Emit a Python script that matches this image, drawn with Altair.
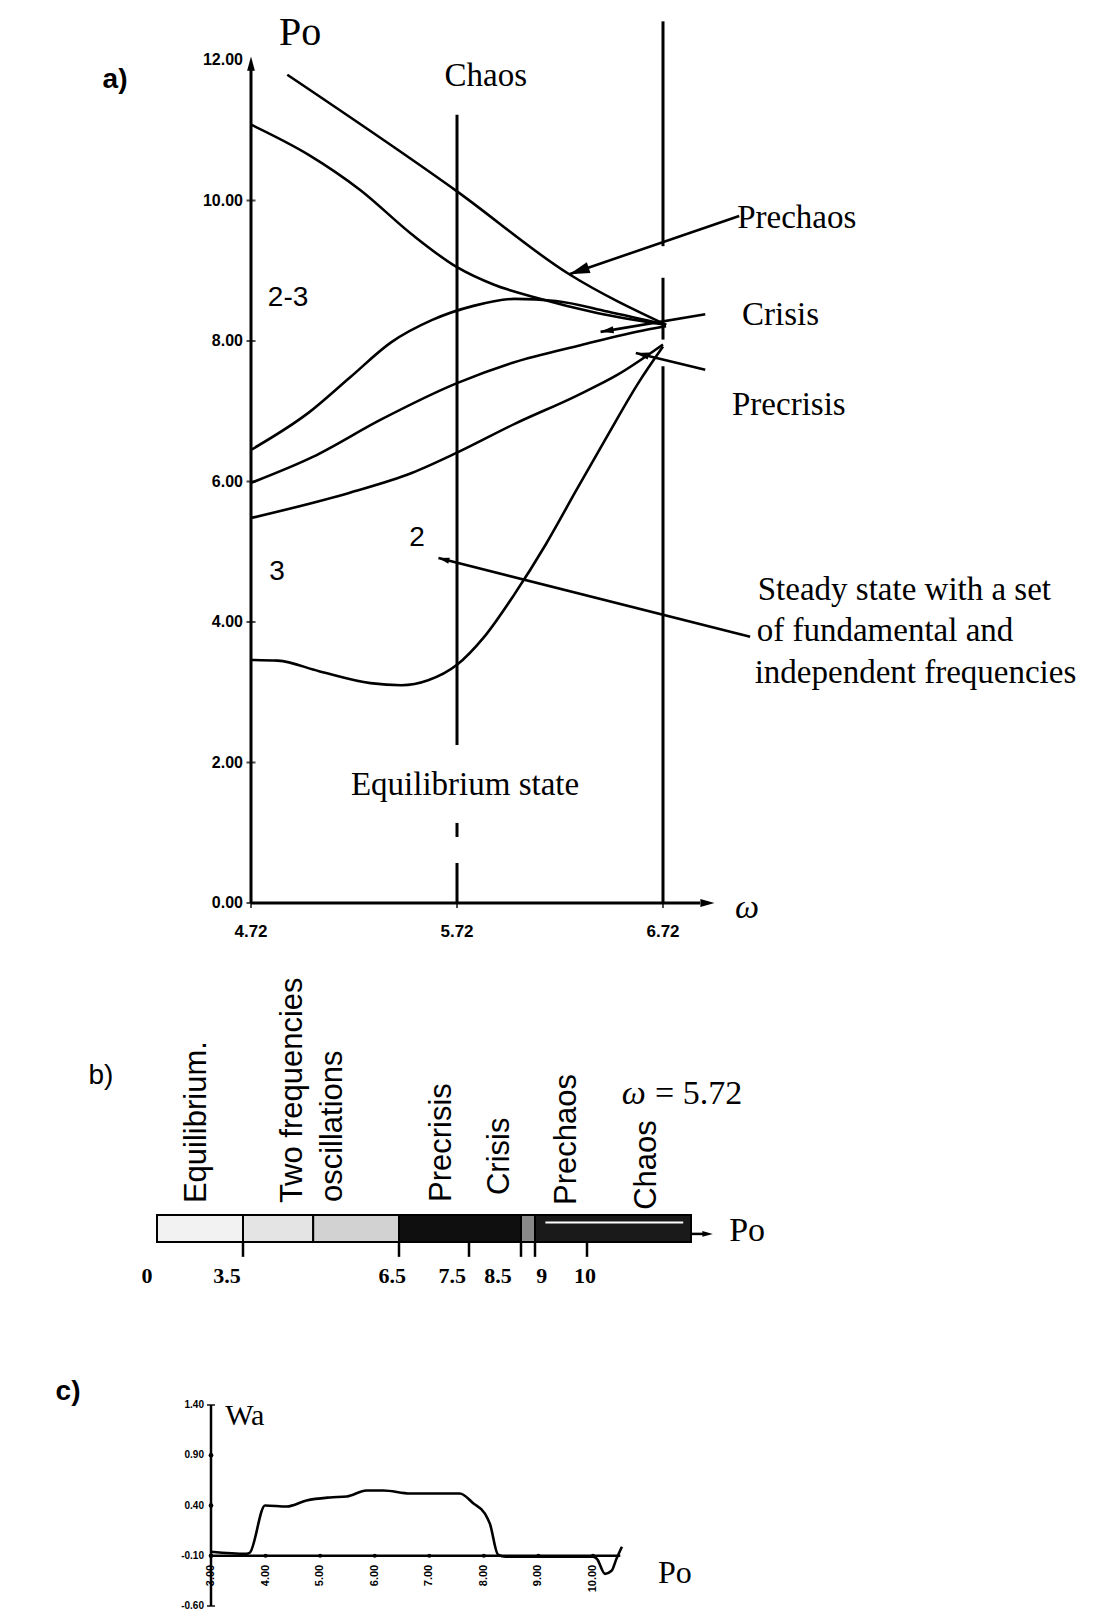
import math
import altair as alt
import pandas as pd

SERIF = "Liberation Serif"
SANS = "Liberation Sans"

# ================= panel a) : Po versus omega =================
c1_w = [4.896, 5.72, 6.265, 6.735]
c1_p = [11.79, 10.13, 8.95, 8.23]
c2_w = [4.72, 5.0, 5.25, 5.5, 5.72, 5.9, 6.1, 6.4, 6.735]
c2_p = [11.08, 10.65, 10.15, 9.52, 9.05, 8.80, 8.62, 8.40, 8.23]
c3_w = [4.72, 5.0, 5.2, 5.4, 5.6, 5.8, 6.0, 6.2, 6.45, 6.735]
c3_p = [6.45, 6.98, 7.48, 7.98, 8.30, 8.50, 8.60, 8.57, 8.42, 8.23]
c4_w = [4.72, 5.02, 5.35, 5.72, 5.99, 6.32, 6.64, 6.735]
c4_p = [5.98, 6.35, 6.88, 7.40, 7.69, 7.94, 8.16, 8.21]
c5_w = [4.72, 5.2, 5.5, 5.72, 6.0, 6.3, 6.5, 6.72]
c5_p = [5.48, 5.84, 6.12, 6.41, 6.82, 7.22, 7.52, 7.95]
c6_w = [4.72, 4.85, 5.05, 5.30, 5.45, 5.58, 5.72, 5.85, 6.0, 6.15, 6.3, 6.45, 6.6, 6.72]
c6_p = [3.46, 3.45, 3.30, 3.13, 3.10, 3.17, 3.39, 3.78, 4.40, 5.10, 5.88, 6.65, 7.40, 7.92]
curves_w = [c1_w, c2_w, c3_w, c4_w, c5_w, c6_w]
curves_p = [c1_p, c2_p, c3_p, c4_p, c5_p, c6_p]

# vertical boundary lines (omega, Po top, Po bottom)
div_w = [5.72, 5.72, 5.72, 6.72, 6.72, 6.72]
div_top = [11.22, 1.14, 0.57, 12.55, 8.90, 7.64]
div_bot = [2.25, 0.94, 0.00, 9.35, 8.02, 0.00]

# annotation arrows (tail -> head)
arr_tail_w = [7.09, 6.925, 6.925, 7.143]
arr_tail_p = [9.78, 8.38, 7.59, 3.79]
arr_head_w = [6.265, 6.417, 6.588, 5.63]
arr_head_p = [8.95, 8.13, 7.83, 4.91]
arr_head_size = [420, 170, 170, 120]

a_ytick_vals = [0, 2, 4, 6, 8, 10, 12]
a_ytick_text = ["0.00", "2.00", "4.00", "6.00", "8.00", "10.00", "12.00"]
a_xtick_vals = [4.72, 5.72, 6.72]
a_xtick_text = ["4.72", "5.72", "6.72"]

a_lab_left_text = ["Prechaos", "Crisis", "Precrisis", "Steady state with a set",
                   "of fundamental and", "independent frequencies"]
a_lab_left_w = [7.08, 7.104, 7.055, 7.18, 7.175, 7.165]
a_lab_left_p = [9.75, 8.37, 7.09, 4.45, 3.87, 3.27]
a_lab_mid_text = ["Chaos", "Equilibrium state"]
a_lab_mid_w = [5.86, 5.759]
a_lab_mid_p = [11.77, 1.68]
a_num_text = ["2-3", "3", "2"]
a_num_w = [4.90, 4.846, 5.526]
a_num_p = [8.61, 4.71, 5.20]

# ================= panel b) : regimes at omega = 5.72 =================
b_seg_start = [0, 3.5, 4.85, 6.5, 8.5, 9.0]
b_seg_end = [3.5, 4.85, 6.5, 8.5, 9.0, 12.0]
b_seg_fill = ["#f2f2f2", "#e4e4e4", "#d2d2d2", "#0f0f0f", "#8a8a8a", "#1a1a1a"]
b_tick_vals = [3.5, 6.5, 7.5, 8.5, 9, 10]
b_ticklab_text = ["0", "3.5", "6.5", "7.5", "8.5", "9", "10"]
b_ticklab_pos = [-0.41, 2.85, 6.37, 7.26, 8.06, 9.13, 9.96]
b_regime_text = ["Equilibrium.", "Two frequencies", "oscillations", "Precrisis",
                 "Crisis", "Prechaos", "Chaos"]
b_regime_po = [1.63, 4.46, 5.23, 7.11, 8.10, 9.62, 11.15]
b_regime_lvl = [1.44, 1.44, 1.48, 1.48, 1.74, 1.37, 1.19]

# ================= panel c) : Wa versus Po =================
c_po = [3.0, 3.65, 3.71, 3.99, 4.39, 4.75, 5.18, 5.49, 5.85, 6.16, 6.65, 7.56, 7.81,
        8.02, 8.11, 8.26, 8.40, 9.0, 10.0, 10.07, 10.22, 10.34, 10.43, 10.53]
c_wa = [-0.06, -0.08, -0.07, 0.40, 0.39, 0.45, 0.48, 0.49, 0.55, 0.55, 0.52, 0.52, 0.42,
        0.32, 0.22, -0.09, -0.11, -0.11, -0.11, -0.13, -0.28, -0.25, -0.13, -0.01]
c_ytick_vals = [1.4, 0.9, 0.4, -0.1, -0.6]
c_ytick_text = ["1.40", "0.90", "0.40", "-0.10", "-0.60"]
c_xtick_vals = [3, 4, 5, 6, 7, 8, 9, 10]
c_xtick_text = ["3.00", "4.00", "5.00", "6.00", "7.00", "8.00", "9.00", "10.00"]

# ================= layout / scales =================
W = 1086
HA, HB, HC = 946, 358, 296

XA_DOM, XA_RNG = [4.72, 6.72], [243, 655]
YA_DOM, YA_RNG = [0, 12], [895, 52]
XA = alt.Scale(domain=XA_DOM, range=XA_RNG, nice=False, zero=False)
YA = alt.Scale(domain=YA_DOM, range=YA_RNG, nice=False, zero=False)
SXA = (XA_RNG[1] - XA_RNG[0]) / (XA_DOM[1] - XA_DOM[0])
SYA = (YA_RNG[0] - YA_RNG[1]) / (YA_DOM[1] - YA_DOM[0])

XB = alt.Scale(domain=[0, 3.5, 6.5, 7.5, 8.5, 9, 10, 12],
               range=[149, 235, 391, 461, 513, 527, 579, 683], nice=False, zero=False)
YB = alt.Scale(domain=[0, 1], range=[288, 261], nice=False, zero=False)

XC = alt.Scale(domain=[3, 10], range=[203, 585], nice=False, zero=False)
YC = alt.Scale(domain=[-0.6, 1.4], range=[294, 93], nice=False, zero=False)

# arrow-head symbol: tip at the anchor point, pointing up before rotation
HEAD = "M0,0L0.55,2L-0.55,2Z"


def X(f, s):
    return alt.X(f, type="quantitative", scale=s, axis=None)


def Y(f, s):
    return alt.Y(f, type="quantitative", scale=s, axis=None)


def texts(df, xs, ys, **kw):
    props = dict(baseline="middle", color="black")
    props.update(kw)
    return alt.Chart(df).mark_text(**props).encode(
        x=X("x", xs), y=Y("y", ys), text=alt.Text("t:N"))


def head_angle(tw, tp, hw, hp, sx, sy):
    dx = (hw - tw) * sx
    dy = -(hp - tp) * sy
    return (math.degrees(math.atan2(dy, dx)) + 90) % 360


# ---------------- panel a ----------------
rows = []
for i, (ws, ps) in enumerate(zip(curves_w, curves_p)):
    for k, (w, p) in enumerate(zip(ws, ps)):
        rows.append({"curve": i, "k": k, "w": w, "p": p})
curve_df = pd.DataFrame(rows)

a_curves = alt.Chart(curve_df).mark_line(
    color="black", strokeWidth=2.6, interpolate="monotone").encode(
    x=X("w", XA), y=Y("p", YA), detail="curve:N", order=alt.Order("k:Q"))

div_df = pd.DataFrame({"w": div_w, "top": div_top, "bot": div_bot})
a_divs = alt.Chart(div_df).mark_rule(color="black", strokeWidth=3).encode(
    x=X("w", XA), y=Y("top", YA), y2=alt.Y2("bot"))

arr_df = pd.DataFrame({"tw": arr_tail_w, "tp": arr_tail_p,
                       "hw": arr_head_w, "hp": arr_head_p, "sz": arr_head_size})
arr_df["ang"] = [head_angle(a, b, c, d, SXA, SYA) for a, b, c, d in
                 zip(arr_tail_w, arr_tail_p, arr_head_w, arr_head_p)]
a_arrows = alt.Chart(arr_df).mark_rule(color="black", strokeWidth=2.6).encode(
    x=X("tw", XA), y=Y("tp", YA), x2=alt.X2("hw"), y2=alt.Y2("hp"))
a_heads = alt.Chart(arr_df).mark_point(
    shape=HEAD, filled=True, color="black", opacity=1, strokeWidth=0).encode(
    x=X("hw", XA), y=Y("hp", YA),
    angle=alt.Angle("ang:Q", scale=None), size=alt.Size("sz:Q", scale=None))

# axes of panel a
a_yaxis = alt.Chart(pd.DataFrame({"x": [XA_DOM[0]], "y": [0], "y2": [11.9]})).mark_rule(
    color="black", strokeWidth=3).encode(x=X("x", XA), y=Y("y", YA), y2=alt.Y2("y2"))
a_xaxis = alt.Chart(pd.DataFrame({"x": [4.72], "x2": [6.90], "y": [0]})).mark_rule(
    color="black", strokeWidth=3).encode(x=X("x", XA), x2=alt.X2("x2"), y=Y("y", YA))
ax_heads_df = pd.DataFrame({"x": [4.72, 6.97], "y": [12.05, 0.0], "ang": [0, 90]})
a_axheads = alt.Chart(ax_heads_df).mark_point(
    shape=HEAD, filled=True, color="black", opacity=1, strokeWidth=0, size=200).encode(
    x=X("x", XA), y=Y("y", YA), angle=alt.Angle("ang:Q", scale=None))
a_yticks = alt.Chart(pd.DataFrame({"x": [4.72] * len(a_ytick_vals[:-1]), "y": a_ytick_vals[:-1]})).mark_tick(
    orient="horizontal", size=9, thickness=2, color="black").encode(x=X("x", XA), y=Y("y", YA))
a_xticks = alt.Chart(pd.DataFrame({"x": a_xtick_vals, "y": [0] * 3})).mark_tick(
    orient="vertical", size=10, thickness=2, color="black").encode(x=X("x", XA), y=Y("y", YA))
a_ylabels = texts(pd.DataFrame({"x": [4.72] * 7, "y": a_ytick_vals, "t": a_ytick_text}),
                  XA, YA, font=SANS, fontSize=16, fontWeight="bold", align="right", dx=-8)
a_xlabels = texts(pd.DataFrame({"x": a_xtick_vals, "y": [0] * 3, "t": a_xtick_text}),
                  XA, YA, font=SANS, fontSize=17, fontWeight="bold", align="center", dy=29)

a_left = texts(pd.DataFrame({"x": a_lab_left_w, "y": a_lab_left_p, "t": a_lab_left_text}),
               XA, YA, font=SERIF, fontSize=33, align="left")
a_mid = texts(pd.DataFrame({"x": a_lab_mid_w, "y": a_lab_mid_p, "t": a_lab_mid_text}),
              XA, YA, font=SERIF, fontSize=33, align="center")
a_nums = texts(pd.DataFrame({"x": a_num_w, "y": a_num_p, "t": a_num_text}),
               XA, YA, font=SANS, fontSize=28, align="center")
a_po = texts(pd.DataFrame({"x": [4.958], "y": [12.38], "t": ["Po"]}),
             XA, YA, font=SERIF, fontSize=40, align="center")
a_omega = texts(pd.DataFrame({"x": [7.128], "y": [-0.07], "t": ["ω"]}),
                XA, YA, font=SERIF, fontSize=34, fontStyle="italic", align="center")
a_tag = texts(pd.DataFrame({"x": [4.06], "y": [11.72], "t": ["a)"]}),
              XA, YA, font=SANS, fontSize=28, fontWeight="bold", align="center")

panel_a = alt.layer(a_divs, a_yaxis, a_xaxis, a_axheads, a_yticks, a_xticks, a_curves,
                    a_arrows, a_heads, a_ylabels, a_xlabels, a_left, a_mid, a_nums,
                    a_po, a_omega, a_tag).properties(width=W, height=HA)

# ---------------- panel b ----------------
seg_df = pd.DataFrame({"x": b_seg_start, "x2": b_seg_end, "y": [0] * 6, "y2": [1] * 6,
                       "fill": b_seg_fill})
b_bar = alt.Chart(seg_df).mark_rect(stroke="black", strokeWidth=2).encode(
    x=X("x", XB), x2=alt.X2("x2"), y=Y("y", YB), y2=alt.Y2("y2"),
    fill=alt.Fill("fill:N", scale=None))
b_stripe = alt.Chart(pd.DataFrame({"x": [9.2], "x2": [11.85], "y": [0.72]})).mark_rule(
    color="white", strokeWidth=2).encode(x=X("x", XB), x2=alt.X2("x2"), y=Y("y", YB))
b_ticks = alt.Chart(pd.DataFrame({"x": b_tick_vals, "y": [0] * 6, "y2": [-0.55] * 6})).mark_rule(
    color="black", strokeWidth=2.5).encode(x=X("x", XB), y=Y("y", YB), y2=alt.Y2("y2"))
b_axis = alt.Chart(pd.DataFrame({"x": [12.0], "x2": [12.25], "y": [0.3]})).mark_rule(
    color="black", strokeWidth=2.5).encode(x=X("x", XB), x2=alt.X2("x2"), y=Y("y", YB))
b_axhead = alt.Chart(pd.DataFrame({"x": [12.42], "y": [0.3]})).mark_point(
    shape=HEAD, filled=True, color="black", opacity=1, strokeWidth=0, size=110, angle=90).encode(
    x=X("x", XB), y=Y("y", YB))
b_ticklabels = texts(pd.DataFrame({"x": b_ticklab_pos, "y": [-1.25] * 7, "t": b_ticklab_text}),
                     XB, YB, font=SERIF, fontSize=22, fontWeight="bold", align="center")
b_regimes = texts(pd.DataFrame({"x": b_regime_po, "y": b_regime_lvl, "t": b_regime_text}),
                  XB, YB, font=SANS, fontSize=31, align="left", angle=270)
b_po = texts(pd.DataFrame({"x": [13.08], "y": [0.41], "t": ["Po"]}),
             XB, YB, font=SERIF, fontSize=34, align="center")
b_om = texts(pd.DataFrame({"x": [10.9], "y": [5.48], "t": ["ω"]}),
             XB, YB, font=SERIF, fontSize=34, fontStyle="italic", align="center")
b_om2 = texts(pd.DataFrame({"x": [11.31], "y": [5.48], "t": ["= 5.72"]}),
              XB, YB, font=SERIF, fontSize=34, align="left")
b_tag = texts(pd.DataFrame({"x": [-2.28], "y": [6.15], "t": ["b)"]}),
              XB, YB, font=SANS, fontSize=28, align="center")

panel_b = alt.layer(b_bar, b_stripe, b_ticks, b_axis, b_axhead, b_ticklabels, b_regimes,
                    b_po, b_om, b_om2, b_tag).properties(width=W, height=HB)

# ---------------- panel c ----------------
c_df = pd.DataFrame({"x": c_po, "y": c_wa, "k": list(range(len(c_po)))})
c_line = alt.Chart(c_df).mark_line(color="black", strokeWidth=2.6, interpolate="monotone").encode(
    x=X("x", XC), y=Y("y", YC), order=alt.Order("k:Q"))
c_yaxis = alt.Chart(pd.DataFrame({"x": [3], "y": [-0.6], "y2": [1.4]})).mark_rule(
    color="black", strokeWidth=2.5).encode(x=X("x", XC), y=Y("y", YC), y2=alt.Y2("y2"))
c_xaxis = alt.Chart(pd.DataFrame({"x": [3], "x2": [10.5], "y": [-0.1]})).mark_rule(
    color="black", strokeWidth=2.5).encode(x=X("x", XC), x2=alt.X2("x2"), y=Y("y", YC))
c_caps = alt.Chart(pd.DataFrame({"x": [3, 3], "y": [1.4, -0.6]})).mark_tick(
    orient="horizontal", size=8, thickness=2, color="black").encode(x=X("x", XC), y=Y("y", YC))
c_ydots = alt.Chart(pd.DataFrame({"x": [3] * 3, "y": [0.9, 0.4, -0.1]})).mark_circle(
    size=22, color="black", opacity=1).encode(x=X("x", XC), y=Y("y", YC))
c_xdots = alt.Chart(pd.DataFrame({"x": c_xtick_vals[1:], "y": [-0.1] * 7})).mark_circle(
    size=18, color="black", opacity=1).encode(x=X("x", XC), y=Y("y", YC))
c_ylabels = texts(pd.DataFrame({"x": [3] * 5, "y": c_ytick_vals, "t": c_ytick_text}),
                  XC, YC, font=SANS, fontSize=10, fontWeight="bold", align="right", dx=-7)
c_xlabels = texts(pd.DataFrame({"x": c_xtick_vals, "y": [-0.19] * 8, "t": c_xtick_text}),
                  XC, YC, font=SANS, fontSize=11, fontWeight="bold", align="right", angle=270)
c_wa_lab = texts(pd.DataFrame({"x": [3.26], "y": [1.29], "t": ["Wa"]}),
                 XC, YC, font=SERIF, fontSize=30, align="left")
c_po_lab = texts(pd.DataFrame({"x": [11.5], "y": [-0.27], "t": ["Po"]}),
                 XC, YC, font=SERIF, fontSize=32, align="center")
c_tag = texts(pd.DataFrame({"x": [0.38], "y": [1.53], "t": ["c)"]}),
              XC, YC, font=SANS, fontSize=28, fontWeight="bold", align="center")

panel_c = alt.layer(c_yaxis, c_xaxis, c_caps, c_ydots, c_xdots, c_line, c_ylabels, c_xlabels,
                    c_wa_lab, c_po_lab, c_tag).properties(width=W, height=HC)

chart = alt.vconcat(panel_a, panel_b, panel_c, spacing=0, bounds="flush").properties(
    padding=0, background="white").configure_view(stroke=None)

chart.save("out.html", embed_options={"renderer": "svg", "actions": False})
